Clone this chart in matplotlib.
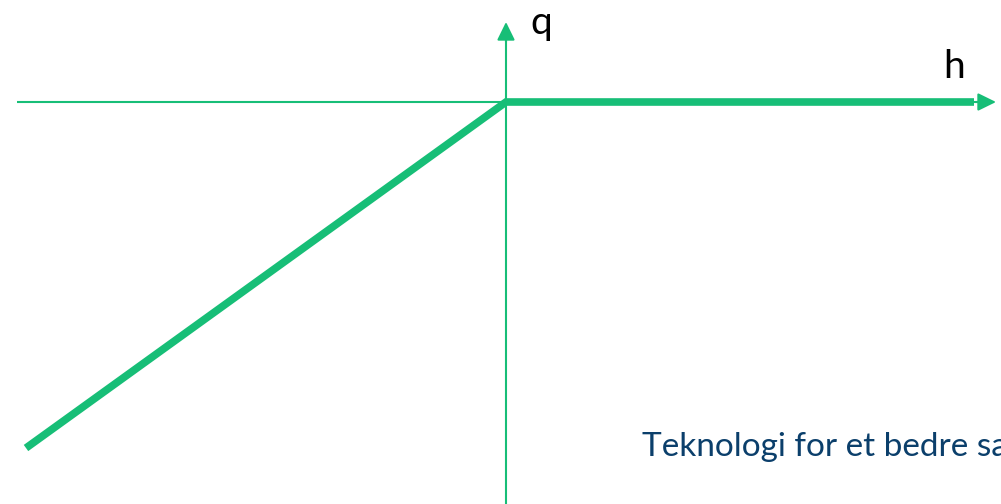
import matplotlib.pyplot as plt

# data: piecewise curve q(h), units relative to origin
h = [-480, 0, 468]
q = [-346, 0, 0]

green = '#17BE77'
navy = '#0B3F6B'

fig = plt.figure(figsize=(10.01, 5.04), dpi=100)
ax = fig.add_axes([0, 0, 1, 1])
ax.set_xlim(-506, 495)
ax.set_ylim(-402, 102)
ax.axis('off')

# axes with arrowheads
ax.plot([-489, 480], [0, 0], color=green, lw=1.5, solid_capstyle='butt')
ax.annotate('', xy=(490, 0), xytext=(470, 0),
            arrowprops=dict(arrowstyle='-|>,head_length=0.55,head_width=0.27',
                            mutation_scale=20, lw=1.5, color=green,
                            shrinkA=0, shrinkB=0))
ax.plot([0, 0], [-402, 70], color=green, lw=1.5, solid_capstyle='butt')
ax.annotate('', xy=(0, 80), xytext=(0, 60),
            arrowprops=dict(arrowstyle='-|>,head_length=0.55,head_width=0.27',
                            mutation_scale=20, lw=1.5, color=green,
                            shrinkA=0, shrinkB=0))

# the curve
ax.plot(h, q, color=green, lw=5.5, solid_capstyle='butt', solid_joinstyle='miter')

ax.text(35, 68, 'q', fontsize=28, family='Lato', ha='center', va='baseline', color='black')
ax.text(448, 24, 'h', fontsize=28, family='Lato', ha='center', va='baseline', color='black')

fig.text(642 / 1001, 1 - 456 / 504, 'Teknologi for et bedre samfunn', fontsize=24,
         family='Lato', color=navy, ha='left', va='baseline')

plt.savefig('out.png', dpi=100)
